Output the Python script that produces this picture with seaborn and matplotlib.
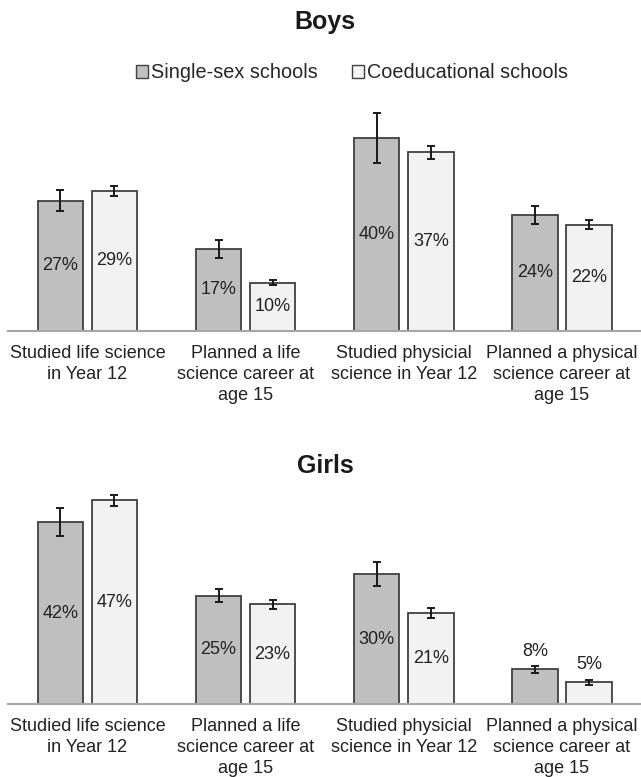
import matplotlib
matplotlib.use("Agg")
import matplotlib.pyplot as plt
import matplotlib.patches as mpatches
import seaborn as sns
import pandas as pd

categories = [
    "Studied life science\nin Year 12",
    "Planned a life\nscience career at\nage 15",
    "Studied physicial\nscience in Year 12",
    "Planned a physical\nscience career at\nage 15",
]
schools = ["Single-sex schools", "Coeducational schools"]

boys_single = [27, 17, 40, 24]
boys_coed = [29, 10, 37, 22]
boys_single_err = [2.2, 1.9, 5.2, 1.8]
boys_coed_err = [1.1, 0.55, 1.4, 1.0]

girls_single = [42, 25, 30, 8]
girls_coed = [47, 23, 21, 5]
girls_single_err = [3.3, 1.5, 2.7, 0.85]
girls_coed_err = [1.2, 0.95, 1.2, 0.5]

colors = ["#bfbfbf", "#f2f2f2"]
edge = "#404040"

sns.set_style("white")
plt.rcParams["font.family"] = ["Liberation Sans", "DejaVu Sans"]

W, H = 641, 777
fig = plt.figure(figsize=(W / 100, H / 100), dpi=100)


def panel(ax, single, coed, serr, cerr, ymax, title, title_y):
    df = pd.DataFrame({
        "category": categories * 2,
        "school": [schools[0]] * 4 + [schools[1]] * 4,
        "value": list(single) + list(coed),
    })
    sns.barplot(data=df, x="category", y="value", hue="school",
                hue_order=schools, order=categories, palette=colors,
                edgecolor=edge, linewidth=1.3, width=0.684, gap=0.16,
                errorbar=None, legend=False, ax=ax)
    for cont, vals, errs in zip(ax.containers, [single, coed], [serr, cerr]):
        xs = [p.get_x() + p.get_width() / 2 for p in cont.patches]
        ax.errorbar(xs, vals, yerr=errs, fmt="none", ecolor="#1a1a1a",
                    elinewidth=1.4, capsize=2.7, capthick=1.4, zorder=5)
        inside = [f"{v}%" if v >= 10 else "" for v in vals]
        above = [f"{v}%" if v < 10 else "" for v in vals]
        ax.bar_label(cont, labels=inside, label_type="center", fontsize=13,
                     color="#222222")
        ax.bar_label(cont, labels=above, label_type="edge", padding=7,
                     fontsize=13, color="#222222")
    ax.set_ylim(0, ymax)
    ax.set_xlim(-0.5, 3.5)
    ax.set_xlabel("")
    ax.set_ylabel("")
    ax.set_yticks([])
    for s in ["top", "left", "right"]:
        ax.spines[s].set_visible(False)
    ax.spines["bottom"].set_color("#a6a6a6")
    ax.spines["bottom"].set_linewidth(1.5)
    ax.tick_params(axis="x", length=0, pad=10, labelsize=13, labelcolor="#222222")
    for t in ax.get_xticklabels():
        t.set_linespacing(1.32)
    fig.text(325 / W, 1 - title_y / H, title, ha="center", va="center",
             fontsize=18, fontweight="bold", color="#1a1a1a")


# Boys axes: baseline at y=330.7px, 4.82 px per %
ymax_b = 48
h_b = ymax_b * 4.82
ax1 = fig.add_axes([8.3 / W, 1 - 330.7 / H, (641 - 8.3) / W, h_b / H])
panel(ax1, boys_single, boys_coed, boys_single_err, boys_coed_err, ymax_b, "Boys", 22)

# Girls axes: baseline at y=704px, 4.33 px per %
ymax_g = 50
h_g = ymax_g * 4.33
ax2 = fig.add_axes([8.3 / W, 1 - 704 / H, (641 - 8.3) / W, h_g / H])
panel(ax2, girls_single, girls_coed, girls_single_err, girls_coed_err, ymax_g, "Girls", 466)

handles = [mpatches.Patch(facecolor=c, edgecolor=edge, linewidth=1.0) for c in colors]
fig.legend(handles, schools, loc="center", bbox_to_anchor=(352 / W, 1 - 73 / H),
           ncol=2, frameon=False, fontsize=14.3, handlelength=0.6,
           handleheight=0.6, handletextpad=0.15, columnspacing=1.7)

fig.savefig("out.png", dpi=100)
